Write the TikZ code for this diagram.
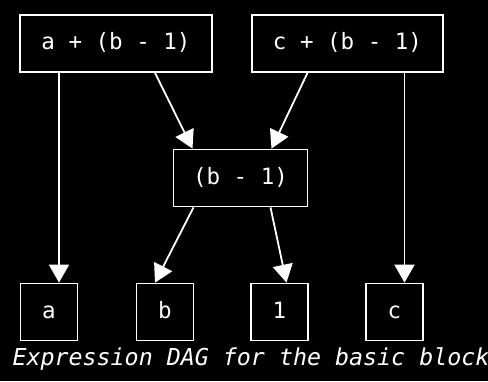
\documentclass[tikz,border=0pt]{standalone}
\usepackage{fontspec}
\setmonofont{DejaVu Sans Mono}
\usetikzlibrary{arrows.meta,positioning}

\begin{document}
\begin{tikzpicture}[x=1pt,y=-1pt,
  font=\ttfamily\fontsize{22.5}{26}\selectfont,
  expr/.style={draw=white,line width=1.8pt,text=white,inner sep=0pt,
    text height=16pt,text depth=4pt,minimum width=#1,minimum height=57pt},
  leaf/.style={expr=57pt},
  arr/.style={-{Triangle[width=20pt,length=18pt]},draw=white,line width=1.8pt}]
  \fill[black] (0,0) rectangle (488,381);
  \useasboundingbox (0,0) rectangle (488,381);
  \node[expr=192pt] (sumA) at (116,43.5) {a + (b - 1)};
  \node[expr=191pt] (sumC) at (347.5,43.5) {c + (b - 1)};
  \node[expr=134pt] (sub) at (240.5,178) {(b - 1)};
  \node[leaf] (a) at (49,312) {a};
  \node[leaf] (b) at (165,312) {b};
  \node[leaf] (one) at (279.5,312) {1};
  \node[leaf] (c) at (394.5,312) {c};
  \node[anchor=base west,text=white,font=\ttfamily\itshape\fontsize{23.3}{27}\selectfont]
    (cap) at (9,365) {Expression DAG for the basic block};
  \draw[arr] ([xshift=10pt]a.north |- sumA.south) -- ([xshift=10pt]a.north);
  \draw[arr] ([xshift=39pt]sumA.south) -- ([xshift=-48pt]sub.north);
  \draw[arr] ([xshift=-40pt]sumC.south) -- ([xshift=31pt]sub.north);
  \draw[arr] ([xshift=10pt]c.north |- sumC.south) -- ([xshift=10pt]c.north);
  \draw[arr] ([xshift=-47pt]sub.south) -- ([xshift=-10pt]b.north);
  \draw[arr] ([xshift=30pt]sub.south) -- ([xshift=7pt]one.north);
\end{tikzpicture}
\end{document}
